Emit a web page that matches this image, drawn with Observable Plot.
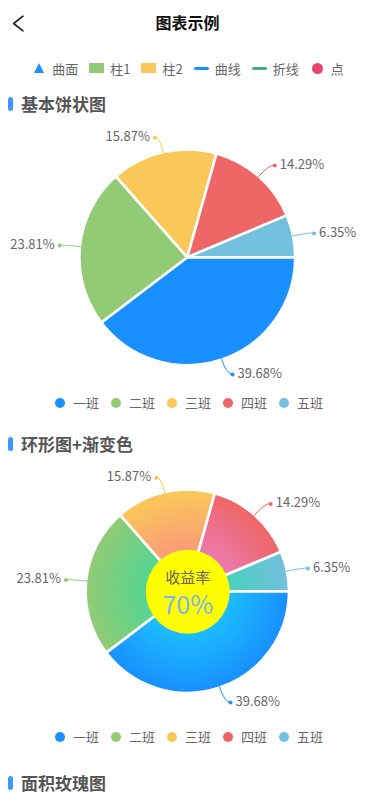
<!DOCTYPE html>
<html><head><meta charset="utf-8">
<script src="https://cdn.jsdelivr.net/npm/d3@7"></script>
<script src="https://cdn.jsdelivr.net/npm/@observablehq/plot@0.6"></script>
<style>
html,body{margin:0;padding:0;background:#fff;width:375px;height:812px;overflow:hidden;font-family:"Noto Sans CJK SC","Noto Sans",sans-serif;}
#page{position:relative;width:375px;height:812px;}
.abs{position:absolute;}
.title{left:0;width:375px;text-align:center;font-size:16px;font-weight:bold;color:#111;height:24px;line-height:24px;}
.sec-bar{position:absolute;left:8px;width:4.5px;height:14px;border-radius:2.5px;background:#3D97FF;}
.sec-text{position:absolute;left:21px;font-size:17px;font-weight:bold;color:#555;height:24px;line-height:24px;white-space:nowrap;}
.toplegend{position:absolute;left:0;width:375px;height:20px;display:flex;justify-content:center;align-items:center;font-size:13px;color:#666;}
.toplegend .item{display:flex;align-items:center;margin-right:11px;}
.toplegend .item:last-child{margin-right:0;}
.toplegend .mk{width:15px;height:15px;display:flex;align-items:center;justify-content:center;margin-right:6px;}
.legend{position:absolute;left:0;width:375px;height:20px;display:flex;justify-content:center;align-items:center;font-size:13px;color:#666;padding-left:3px;box-sizing:border-box;}
.legend .item{display:flex;align-items:center;margin-right:12px;line-height:20px;}
.legend .item:last-child{margin-right:0;}
.legend .dot{width:10px;height:10px;border-radius:50%;margin-right:8px;}
.chart{position:absolute;left:0;}
</style></head><body><div id="page"></div>
<script>
// ---- data ----
const pageTitle = "图表示例";
const topLegendNames = ["曲面", "柱1", "柱2", "曲线", "折线", "点"];
const topLegendShapes = ["triangle", "rect", "rect", "line", "line", "dot"];
const topLegendColors = ["#1890FF", "#91CB74", "#FAC858", "#1890FF", "#3CB371", "#EA4467"];
const sectionTitles = ["基本饼状图", "环形图+渐变色", "面积玫瑰图"];
const classes = ["一班", "二班", "三班", "四班", "五班"];
const counts = [25, 15, 10, 9, 4];
const sliceColors = ["#1890FF", "#91CB74", "#FAC858", "#EE6666", "#73C0DE"];
const gradientInnerColors = ["#20DCFF", "#2BDCA8", "#FA7D8D", "#EB88E2", "#2BDCA8"];
const ringTitle = "收益率";
const ringValue = "70%";

const FONT = '"Noto Sans CJK SC","Noto Sans",sans-serif';
const total = d3.sum(counts);
const percentLabels = counts.map(v => (v / total * 100).toFixed(2) + "%");

const page = document.getElementById("page");
function el(tag, cls, style, text) {
  const e = document.createElement(tag);
  if (cls) e.className = cls;
  if (style) e.setAttribute("style", style);
  if (text != null) e.textContent = text;
  page.appendChild(e);
  return e;
}

// header
const back = document.createElementNS("http://www.w3.org/2000/svg", "svg");
back.setAttribute("width", 30); back.setAttribute("height", 30);
back.setAttribute("style", "position:absolute;left:5px;top:8px;");
back.innerHTML = '<polyline points="18,8.2 8.6,15.5 18,22.8" fill="none" stroke="#222" stroke-width="1.7" stroke-linecap="round" stroke-linejoin="round"/>';
page.appendChild(back);
el("div", "abs title", "top:10px;", pageTitle);

// top legend
const tl = el("div", "toplegend", "top:58.3px;");
topLegendNames.forEach((n, i) => {
  const it = document.createElement("div"); it.className = "item";
  const mk = document.createElement("div"); mk.className = "mk";
  const s = document.createElement("div");
  const c = topLegendColors[i];
  if (topLegendShapes[i] === "triangle") s.setAttribute("style", `width:0;height:0;border-left:5.5px solid transparent;border-right:5.5px solid transparent;border-bottom:10.5px solid ${c};`);
  else if (topLegendShapes[i] === "rect") s.setAttribute("style", `width:15px;height:10px;background:${c};`);
  else if (topLegendShapes[i] === "line") s.setAttribute("style", `width:15px;height:3px;border-radius:1.5px;background:${c};`);
  else s.setAttribute("style", `width:11px;height:11px;border-radius:50%;background:${c};`);
  mk.appendChild(s); it.appendChild(mk);
  const t = document.createElement("span"); t.textContent = n; it.appendChild(t);
  tl.appendChild(it);
});

function section(title, cyPx) {
  el("div", "sec-bar", `top:${cyPx - 7}px;`);
  el("div", "sec-text", `top:${cyPx - 12}px;`, title);
}
function legendRow(cyPx) {
  const row = el("div", "legend", `top:${cyPx - 10}px;`);
  classes.forEach((n, i) => {
    const it = document.createElement("div"); it.className = "item";
    const d = document.createElement("div"); d.className = "dot"; d.style.background = sliceColors[i];
    const t = document.createElement("span"); t.textContent = n;
    it.appendChild(d); it.appendChild(t); row.appendChild(it);
  });
}

function pieChart({id, top, height, cx, cy, r, gradient}) {
  const W = 375;
  const arcs = d3.pie().sort(null).value(d => d).startAngle(Math.PI / 2).endAngle(Math.PI * 2.5)(counts);
  const lead = 16.5 / r, gap = 5.5 / r;
  const labels = arcs.map((a, i) => {
    const m = (a.startAngle + a.endAngle) / 2, sx = Math.sin(m), sy = -Math.cos(m);
    const side = sx >= 0 ? 1 : -1;
    return {name: classes[i], pct: percentLabels[i], color: sliceColors[i], side,
      ex: sx, ey: sy, kx: sx * (1 + lead), ky: sy * (1 + lead),
      px: sx * (1 + lead) + side * gap, py: sy * (1 + lead)};
  });
  const xDomain = [-cx / r, (W - cx) / r], yDomain = [-cy / r, (height - cy) / r];
  const slices = (index, scales) => {
    const X = (scales && scales.x) || d3.scaleLinear(xDomain, [0, W]);
    const Y = (scales && scales.y) || d3.scaleLinear(yDomain, [0, height]);
    const ox = X(0), oy = Y(0), R = X(1) - X(0);
    const g = d3.create("svg:g");
    const inner = g.append("g").attr("transform", `translate(${ox},${oy})`);
    if (gradient) {
      const defs = inner.append("defs");
      arcs.forEach((a, i) => {
        const rg = defs.append("radialGradient").attr("id", `${id}-grad-${i}`)
          .attr("gradientUnits", "userSpaceOnUse").attr("cx", 0).attr("cy", 0).attr("r", R);
        rg.append("stop").attr("offset", 0).attr("stop-color", gradientInnerColors[i]);
        rg.append("stop").attr("offset", 1).attr("stop-color", sliceColors[i]);
      });
    }
    const arcGen = d3.arc().innerRadius(0).outerRadius(R + 1.2);
    inner.selectAll("path").data(arcs).join("path")
      .attr("d", arcGen)
      .attr("fill", (a, i) => gradient ? `url(#${id}-grad-${i})` : sliceColors[i])
      .attr("stroke", "#fff").attr("stroke-width", 2.6).attr("stroke-linejoin", "round");
    g.append("g").selectAll("path").data(labels).join("path")
      .attr("d", d => `M${X(d.ex)},${Y(d.ey)}Q${X(d.kx)},${Y(d.ky)} ${X(d.px)},${Y(d.py)}`)
      .attr("fill", "none").attr("stroke", d => d.color).attr("stroke-width", 1);
    return g.node();
  };
  const marks = [
    slices,
    Plot.dot(labels, {x: "px", y: "py", r: 2, fill: "color"}),
    Plot.text(labels.filter(d => d.side > 0), {x: "px", y: "py", text: "pct", textAnchor: "start", dx: 5, dy: -1, fill: "#666", fontSize: 13}),
    Plot.text(labels.filter(d => d.side < 0), {x: "px", y: "py", text: "pct", textAnchor: "end", dx: -5, dy: -1, fill: "#666", fontSize: 13})
  ];
  if (gradient) {
    marks.push(
      Plot.dot([ringValue], {x: () => 0, y: () => 0, r: 42, fill: "#FFFF00"}),
      Plot.text([ringTitle], {x: () => 0, y: () => 0, text: d => d, dy: -14, fontSize: 15, fill: "#666"}),
      Plot.text([ringValue], {x: () => 0, y: () => 0, text: d => d, dy: 14, fontSize: 25, fill: "#7CB5EC"})
    );
  }
  const svg = Plot.plot({
    width: W, height, margin: 0,
    x: {domain: xDomain, range: [0, W], axis: null},
    y: {domain: yDomain, range: [0, height], axis: null},
    color: {type: "identity"},
    style: {background: "transparent", fontFamily: FONT, overflow: "visible"},
    marks
  });
  svg.classList.add("chart");
  svg.style.position = "absolute";
  svg.style.left = "0px";
  svg.style.top = top + "px";
  page.appendChild(svg);
}

section(sectionTitles[0], 104);
pieChart({id: "p1", top: 120, height: 270, cx: 187.3, cy: 137.3, r: 106.7, gradient: false});
legendRow(402.7);

section(sectionTitles[1], 444);
pieChart({id: "p2", top: 455, height: 260, cx: 187.3, cy: 136.2, r: 100.5, gradient: true});
legendRow(736.7);

section(sectionTitles[2], 783);
</script>
</body></html>
